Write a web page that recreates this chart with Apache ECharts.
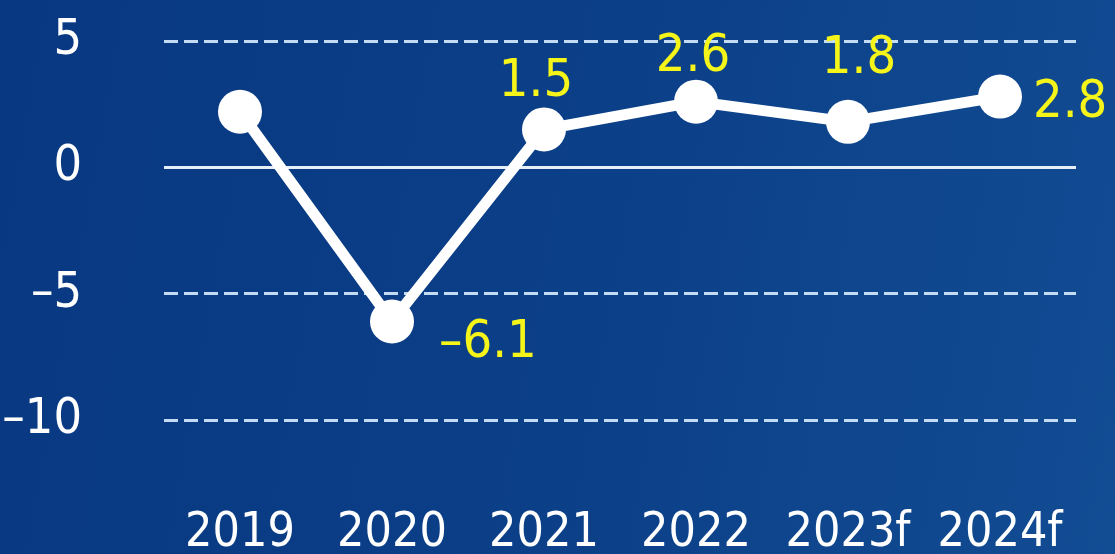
<!DOCTYPE html>
<html>
<head>
<meta charset="utf-8">
<script src="https://cdn.jsdelivr.net/npm/echarts@6/dist/echarts.min.js"></script>
<style>
  html, body { margin: 0; padding: 0; }
  #chart { width: 1115px; height: 554px;
    background: linear-gradient(100deg, #083881 0%, #0b3f87 50%, #124c93 100%); }
</style>
</head>
<body>
<div id="chart"></div>
<script>
// GDP growth, % year on year
const years = ['2019', '2020', '2021', '2022', '2023f', '2024f'];
const growth = [2.2, -6.1, 1.5, 2.6, 1.8, 2.8];
const yTicks = { min: -10, max: 5, step: 5 };

const FONT = '"Liberation Sans Narrow", "DejaVu Sans Condensed", "Liberation Sans", sans-serif';

// negative numbers are set with a dash a little longer than a hyphen
const fmt = v => String(v).replace('-', '\u2013');

// label placement per point (first point is left unlabelled)
const labelPlacement = [
  null,
  { position: 'right', offset: [20, 22] },
  { position: 'top', offset: [-8, 6] },
  { position: 'top', offset: [-3, 9] },
  { position: 'top', offset: [11, -9] },
  { position: 'right', offset: [6, 7] }
];

const seriesData = growth.map((v, i) => {
  const p = labelPlacement[i];
  return {
    value: v,
    label: p ? { show: true, position: p.position, offset: p.offset } : { show: false }
  };
});

const chart = echarts.init(document.getElementById('chart'), null, { renderer: 'canvas' });
chart.setOption({
  backgroundColor: 'transparent',
  animation: false,
  grid: { left: 164, right: 39, top: 41, bottom: 134, outerBoundsMode: 'none', containLabel: false },
  xAxis: {
    type: 'category',
    data: years,
    boundaryGap: true,
    axisLine: { show: false, onZero: false },
    axisTick: { show: false },
    axisLabel: { color: '#ffffff', fontFamily: FONT, fontSize: 48, margin: 90, interval: 0, hideOverlap: false },
    splitLine: { show: false }
  },
  yAxis: {
    type: 'value',
    min: yTicks.min, max: yTicks.max, interval: yTicks.step,
    axisLine: { show: false },
    axisTick: { show: false },
    axisLabel: { color: '#ffffff', fontFamily: FONT, fontSize: 50, margin: 82, padding: [0, 0, 22, 0], formatter: fmt },
    splitLine: { show: true, lineStyle: { color: '#c4dbf4', width: 3, type: [14, 6] } }
  },
  series: [{
    type: 'line',
    data: seriesData,
    symbol: 'circle',
    symbolSize: 44,
    lineStyle: { color: '#ffffff', width: 11 },
    itemStyle: { color: '#ffffff' },
    label: { color: '#f6f51a', fontFamily: FONT, fontSize: 52, formatter: p => fmt(p.value) },
    markLine: {
      silent: true,
      symbol: 'none',
      label: { show: false },
      lineStyle: { color: '#e6eef8', width: 3, type: 'solid' },
      data: [{ yAxis: 0 }],
      z: 1
    },
    z: 3
  }]
});
</script>
</body>
</html>
